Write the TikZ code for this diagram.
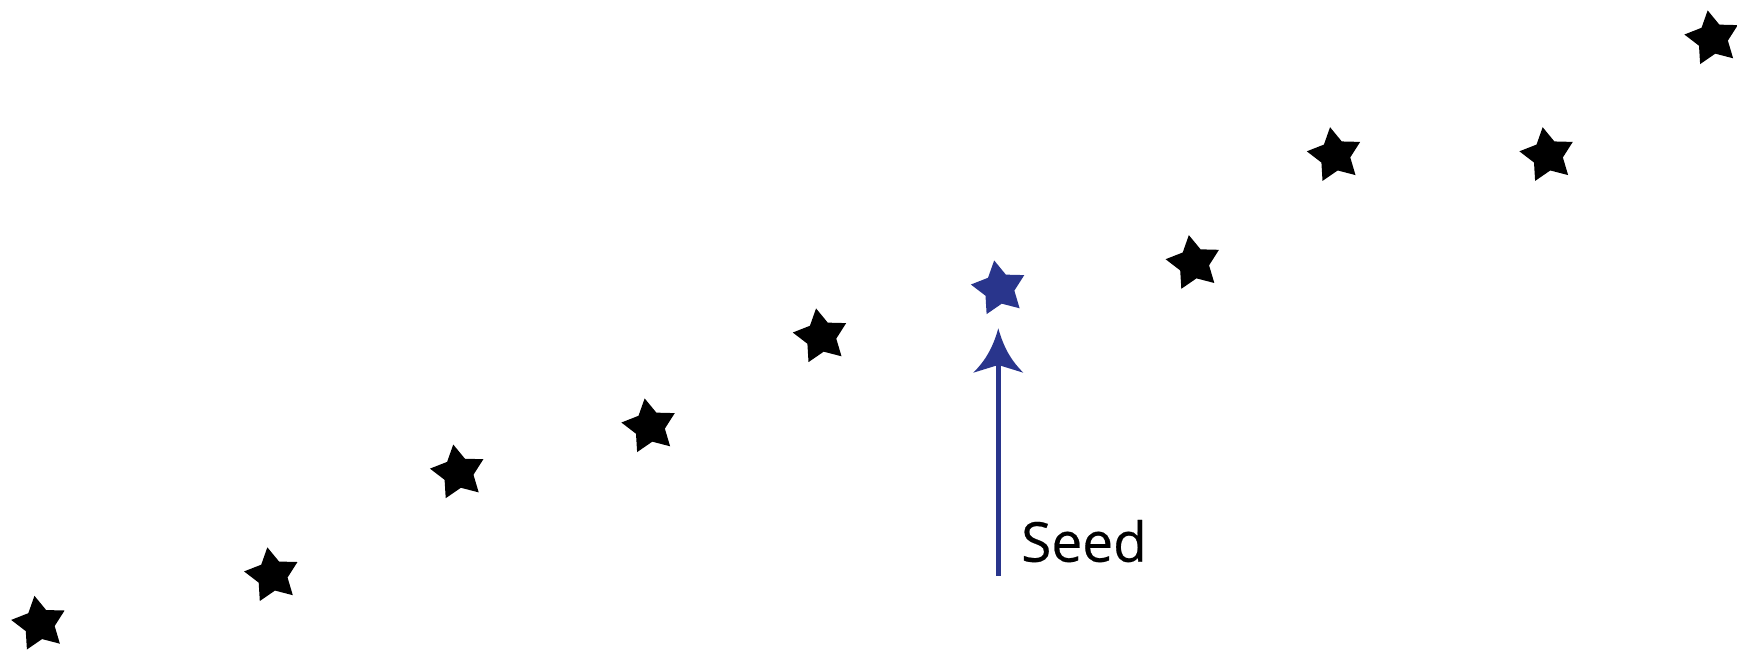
\documentclass[tikz,border=0pt]{standalone}
\usepackage{fontspec}
\setmainfont{Open Sans}
\newfontfamily\seedfont[FakeBold=0.4]{Open Sans}
\usetikzlibrary{shapes.geometric}
\definecolor{seedblue}{RGB}{41,53,140}
\begin{document}
\begin{tikzpicture}[x=1pt,y=1pt,
  pt/.style={star, star points=5, star point ratio=1.85, minimum size=57pt,
    inner sep=0pt, shape border rotate=10, fill=black, draw=none},
  seedpt/.style={pt, fill=seedblue},
  lbl/.style={font=\seedfont\fontsize{55}{62}\selectfont, inner sep=0pt, anchor=base west}]
\useasboundingbox (0,0) rectangle (1737,650);
\node[pt] (s1) at (39.4,26.1) {};
\node[pt] (s2) at (272.3,74.6) {};
\node[pt] (s3) at (458.2,177.4) {};
\node[pt] (s4) at (649.6,223.5) {};
\node[pt] (s5) at (821,313.5) {};
\node[seedpt] (seed) at (999.1,361.5) {};
\node[pt] (s7) at (1193.8,386.8) {};
\node[pt] (s8) at (1335,494.7) {};
\node[pt] (s9) at (1547.6,494.7) {};
\node[pt] (s10) at (1712.6,611.5) {};
% arrow
\coordinate (abase) at (998.3,74.3);
\coordinate (atip) at (998.3,321.7);
\fill[seedblue] ([xshift=-2.5pt]abase) rectangle ([shift={(2.5,-30)}]atip);
\fill[seedblue] (atip) .. controls +(6,-22) and +(-10,10) .. ([shift={(25,-44.4)}]atip)
  -- ([yshift=-36.7pt]atip) -- ([shift={(-25,-44.4)}]atip)
  .. controls +(10,10) and +(-6,-22) .. (atip) -- cycle;
\node[lbl] (seedlabel) at (1021,88.3) {Seed};
\end{tikzpicture}
\end{document}
